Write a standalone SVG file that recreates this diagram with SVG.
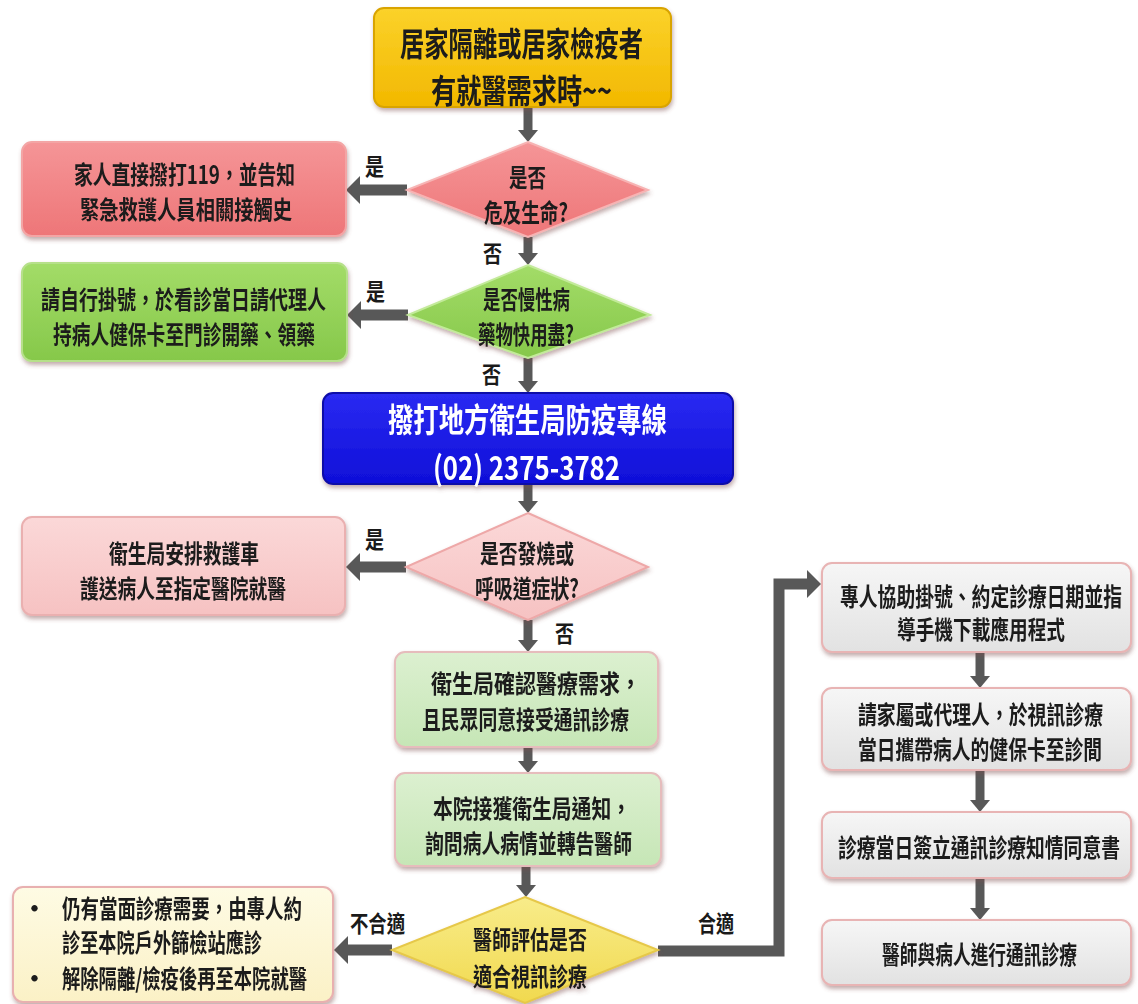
<svg xmlns="http://www.w3.org/2000/svg" width="1138" height="1004" viewBox="0 0 1138 1004">
<style>
.t{font-family:"Noto Sans CJK TC","Noto Sans CJK SC",sans-serif;font-weight:bold;fill:#1a1a1a;dominant-baseline:central;text-anchor:start}
.w{fill:#ffffff}
.s22{font-size:25px}
.lb{font-size:23px}
.big{font-size:33px}
.c75,.c74,.c77,.c83{transform-box:fill-box;transform-origin:0 50%}
.c75{transform:scaleX(0.75)}
.c74{transform:scaleX(0.74)}
.c77{transform:scaleX(0.77)}
.c83{transform:scaleX(0.83)}
.conn{stroke:#585858;fill:none;stroke-width:11}
.v{stroke-width:9}
.box{filter:url(#sh)}
</style>
<defs>
<filter id="sh" x="-10%" y="-10%" width="120%" height="130%">
<feDropShadow dx="1" dy="3" stdDeviation="2" flood-color="#7a4a4a" flood-opacity="0.45"/>
</filter>
<marker id="ah" viewBox="0 0 12 20" refX="0" refY="10" markerWidth="12" markerHeight="20" markerUnits="userSpaceOnUse" orient="auto">
<path d="M0,0 L12,10 L0,20 z" fill="#585858"/>
</marker>
<marker id="ahb" viewBox="0 0 14 28" refX="0" refY="14" markerWidth="14" markerHeight="28" markerUnits="userSpaceOnUse" orient="auto">
<path d="M0,0 L14,14 L0,28 z" fill="#585858"/>
</marker>
<linearGradient id="gGold" x1="0" y1="0" x2="0" y2="1"><stop offset="0" stop-color="#fbd22a"/><stop offset="1" stop-color="#f2b800"/></linearGradient>
<linearGradient id="gRed" x1="0" y1="0" x2="0" y2="1"><stop offset="0" stop-color="#f59597"/><stop offset="1" stop-color="#ee7678"/></linearGradient>
<linearGradient id="gGreen" x1="0" y1="0" x2="0" y2="1"><stop offset="0" stop-color="#a3dc68"/><stop offset="1" stop-color="#86c84a"/></linearGradient>
<linearGradient id="gBlue" x1="0" y1="0" x2="0" y2="1"><stop offset="0" stop-color="#2a2af2"/><stop offset="1" stop-color="#0f0fd8"/></linearGradient>
<linearGradient id="gPink" x1="0" y1="0" x2="0" y2="1"><stop offset="0" stop-color="#fbd8d8"/><stop offset="1" stop-color="#f6c2c2"/></linearGradient>
<linearGradient id="gLG" x1="0" y1="0" x2="0" y2="1"><stop offset="0" stop-color="#dcf0d0"/><stop offset="1" stop-color="#c6e6b6"/></linearGradient>
<linearGradient id="gYel" x1="0" y1="0" x2="0" y2="1"><stop offset="0" stop-color="#f8ec8a"/><stop offset="1" stop-color="#f1d94e"/></linearGradient>
<linearGradient id="gCream" x1="0" y1="0" x2="0" y2="1"><stop offset="0" stop-color="#fefbe4"/><stop offset="1" stop-color="#fbf1c6"/></linearGradient>
<linearGradient id="gGray" x1="0" y1="0" x2="0" y2="1"><stop offset="0" stop-color="#f6f6f6"/><stop offset="1" stop-color="#e2e2e2"/></linearGradient>
</defs>
<rect width="1138" height="1004" fill="#ffffff"/>

<g id="connectors">
<line class="conn v" x1="528" y1="107" x2="528" y2="130" marker-end="url(#ah)"/>
<line class="conn v" x1="528" y1="237" x2="528" y2="253" marker-end="url(#ah)"/>
<line class="conn v" x1="528" y1="358" x2="528" y2="381" marker-end="url(#ah)"/>
<line class="conn v" x1="528" y1="484" x2="528" y2="501" marker-end="url(#ah)"/>
<line class="conn v" x1="528" y1="620" x2="528" y2="640" marker-end="url(#ah)"/>
<line class="conn v" x1="528" y1="747" x2="528" y2="761" marker-end="url(#ah)"/>
<line class="conn v" x1="526" y1="866" x2="526" y2="885" marker-end="url(#ah)"/>
<line class="conn" x1="407" y1="190" x2="360" y2="190" marker-end="url(#ahb)"/>
<line class="conn" x1="408" y1="315" x2="361" y2="315" marker-end="url(#ahb)"/>
<line class="conn" x1="406" y1="567" x2="360" y2="567" marker-end="url(#ahb)"/>
<line class="conn" x1="392" y1="950" x2="348" y2="950" marker-end="url(#ahb)"/>
<path class="conn" d="M658,951 H779 V584 H807" marker-end="url(#ahb)"/>
<line class="conn v" x1="980" y1="652" x2="980" y2="676" marker-end="url(#ah)"/>
<line class="conn v" x1="980" y1="770" x2="980" y2="800" marker-end="url(#ah)"/>
<line class="conn v" x1="980" y1="878" x2="980" y2="908" marker-end="url(#ah)"/>
<text class="t lb c83" x="365" y="165" textLength="22.9" lengthAdjust="spacingAndGlyphs">是</text>
<text class="t lb c83" x="483" y="252" textLength="22.9" lengthAdjust="spacingAndGlyphs">否</text>
<text class="t lb c83" x="366" y="290" textLength="22.9" lengthAdjust="spacingAndGlyphs">是</text>
<text class="t lb c83" x="482" y="373" textLength="22.9" lengthAdjust="spacingAndGlyphs">否</text>
<text class="t lb c83" x="365" y="538" textLength="22.9" lengthAdjust="spacingAndGlyphs">是</text>
<text class="t lb c83" x="555" y="632" textLength="22.9" lengthAdjust="spacingAndGlyphs">否</text>
<text class="t lb c83" x="350" y="922" textLength="66.3" lengthAdjust="spacingAndGlyphs">不合適</text>
<text class="t lb c83" x="698" y="922" textLength="43.4" lengthAdjust="spacingAndGlyphs">合適</text>
</g>

<g id="n_start" class="box">
<rect x="374" y="8" width="297" height="99" rx="10" fill="url(#gGold)" stroke="#d9a400" stroke-width="2"/>
<text class="t big c74" x="400" y="41" textLength="328.4" lengthAdjust="spacingAndGlyphs">居家隔離或居家檢疫者</text>
<text class="t big c74" x="431" y="88" textLength="244.6" lengthAdjust="spacingAndGlyphs">有就醫需求時~~</text>
</g>

<g id="n_d1" class="box">
<polygon points="528,142 648,190 528,237 407,190" fill="url(#gRed)" stroke="#f7b3b3" stroke-width="2"/>
<text class="t s22 c75" x="509" y="176" textLength="49.3" lengthAdjust="spacingAndGlyphs">是否</text>
<text class="t s22 c75" x="484" y="211" textLength="112" lengthAdjust="spacingAndGlyphs">危及生命?</text>
</g>

<g id="n_red" class="box">
<rect x="22" y="142" width="324" height="94" rx="10" fill="url(#gRed)" stroke="#f3a5a5" stroke-width="2"/>
<text class="t s22 c75" x="74" y="173" textLength="294.7" lengthAdjust="spacingAndGlyphs">家人直接撥打119，並告知</text>
<text class="t s22 c75" x="80" y="208" textLength="282.7" lengthAdjust="spacingAndGlyphs">緊急救護人員相關接觸史</text>
</g>

<g id="n_d2" class="box">
<polygon points="528,265 650,315 528,358 408,315" fill="url(#gGreen)" stroke="#c3ea9a" stroke-width="2"/>
<text class="t s22 c75" x="483" y="298" textLength="116" lengthAdjust="spacingAndGlyphs">是否慢性病</text>
<text class="t s22 c75" x="478" y="333" textLength="128" lengthAdjust="spacingAndGlyphs">藥物快用盡?</text>
</g>

<g id="n_green" class="box">
<rect x="22" y="263" width="325" height="98" rx="10" fill="url(#gGreen)" stroke="#b6e08a" stroke-width="2"/>
<text class="t s22 c75" x="41" y="298" textLength="380" lengthAdjust="spacingAndGlyphs">請自行掛號，於看診當日請代理人</text>
<text class="t s22 c75" x="53" y="333" textLength="349.3" lengthAdjust="spacingAndGlyphs">持病人健保卡至門診開藥、領藥</text>
</g>

<g id="n_blue" class="box">
<rect x="323" y="393" width="410" height="91" rx="10" fill="url(#gBlue)" stroke="#0808a8" stroke-width="2"/>
<text class="t big w c77" x="388" y="417" textLength="362.3" lengthAdjust="spacingAndGlyphs">撥打地方衛生局防疫專線</text>
<text class="t big w c77" x="433" y="465" textLength="242.9" lengthAdjust="spacingAndGlyphs">(02) 2375-3782</text>
</g>

<g id="n_d3" class="box">
<polygon points="528,513 648,567 528,620 406,567" fill="url(#gPink)" stroke="#eea8a8" stroke-width="2"/>
<text class="t s22 c75" x="480" y="552" textLength="125.3" lengthAdjust="spacingAndGlyphs">是否發燒或</text>
<text class="t s22 c75" x="475" y="587" textLength="138.7" lengthAdjust="spacingAndGlyphs">呼吸道症狀?</text>
</g>

<g id="n_pink" class="box">
<rect x="22" y="517" width="323" height="98" rx="10" fill="url(#gPink)" stroke="#eab0b0" stroke-width="2"/>
<text class="t s22 c75" x="109" y="552" textLength="200" lengthAdjust="spacingAndGlyphs">衛生局安排救護車</text>
<text class="t s22 c75" x="80" y="587" textLength="274.7" lengthAdjust="spacingAndGlyphs">護送病人至指定醫院就醫</text>
</g>

<g id="n_lg1" class="box">
<rect x="395" y="652" width="263" height="95" rx="10" fill="url(#gLG)" stroke="#e6bcbc" stroke-width="2"/>
<text class="t s22 c75" x="431" y="682" textLength="280" lengthAdjust="spacingAndGlyphs">衛生局確認醫療需求，</text>
<text class="t s22 c75" x="422" y="718" textLength="276" lengthAdjust="spacingAndGlyphs">且民眾同意接受通訊診療</text>
</g>

<g id="n_lg2" class="box">
<rect x="395" y="773" width="266" height="93" rx="10" fill="url(#gLG)" stroke="#e6bcbc" stroke-width="2"/>
<text class="t s22 c75" x="433" y="807" textLength="264" lengthAdjust="spacingAndGlyphs">本院接獲衛生局通知，</text>
<text class="t s22 c75" x="425" y="842" textLength="276" lengthAdjust="spacingAndGlyphs">詢問病人病情並轉告醫師</text>
</g>

<g id="n_d4" class="box">
<polygon points="525,897 658,950 525,1003 392,950" fill="url(#gYel)" stroke="#e6c84a" stroke-width="2"/>
<text class="t s22 c75" x="473" y="938" textLength="152" lengthAdjust="spacingAndGlyphs">醫師評估是否</text>
<text class="t s22 c75" x="473" y="975" textLength="152" lengthAdjust="spacingAndGlyphs">適合視訊診療</text>
</g>

<g id="n_cream" class="box">
<rect x="13" y="887" width="320" height="115" rx="10" fill="url(#gCream)" stroke="#e8b0b0" stroke-width="2"/>
<text class="t s22" x="22" y="907">•</text>
<text class="t s22 c75" x="62" y="907" textLength="320" lengthAdjust="spacingAndGlyphs">仍有當面診療需要，由專人約</text>
<text class="t s22 c75" x="62" y="941" textLength="266.7" lengthAdjust="spacingAndGlyphs">診至本院戶外篩檢站應診</text>
<text class="t s22" x="22" y="977">•</text>
<text class="t s22 c75" x="62" y="977" textLength="326.7" lengthAdjust="spacingAndGlyphs">解除隔離/檢疫後再至本院就醫</text>
</g>

<g id="n_r1" class="box">
<rect x="822" y="563" width="309" height="89" rx="10" fill="url(#gGray)" stroke="#e8b4b4" stroke-width="2"/>
<text class="t s22 c75" x="840" y="595" textLength="376" lengthAdjust="spacingAndGlyphs">專人協助掛號、約定診療日期並指</text>
<text class="t s22 c75" x="897" y="628" textLength="224" lengthAdjust="spacingAndGlyphs">導手機下載應用程式</text>
</g>

<g id="n_r2" class="box">
<rect x="822" y="688" width="309" height="82" rx="10" fill="url(#gGray)" stroke="#e8b4b4" stroke-width="2"/>
<text class="t s22 c75" x="858" y="713" textLength="326.7" lengthAdjust="spacingAndGlyphs">請家屬或代理人，於視訊診療</text>
<text class="t s22 c75" x="858" y="748" textLength="325.3" lengthAdjust="spacingAndGlyphs">當日攜帶病人的健保卡至診間</text>
</g>

<g id="n_r3" class="box">
<rect x="822" y="812" width="309" height="66" rx="10" fill="url(#gGray)" stroke="#e8b4b4" stroke-width="2"/>
<text class="t s22 c75" x="838" y="846" textLength="376" lengthAdjust="spacingAndGlyphs">診療當日簽立通訊診療知情同意書</text>
</g>

<g id="n_r4" class="box">
<rect x="822" y="920" width="309" height="65" rx="10" fill="url(#gGray)" stroke="#e8b4b4" stroke-width="2"/>
<text class="t s22 c75" x="882" y="953" textLength="260" lengthAdjust="spacingAndGlyphs">醫師與病人進行通訊診療</text>
</g>
</svg>
